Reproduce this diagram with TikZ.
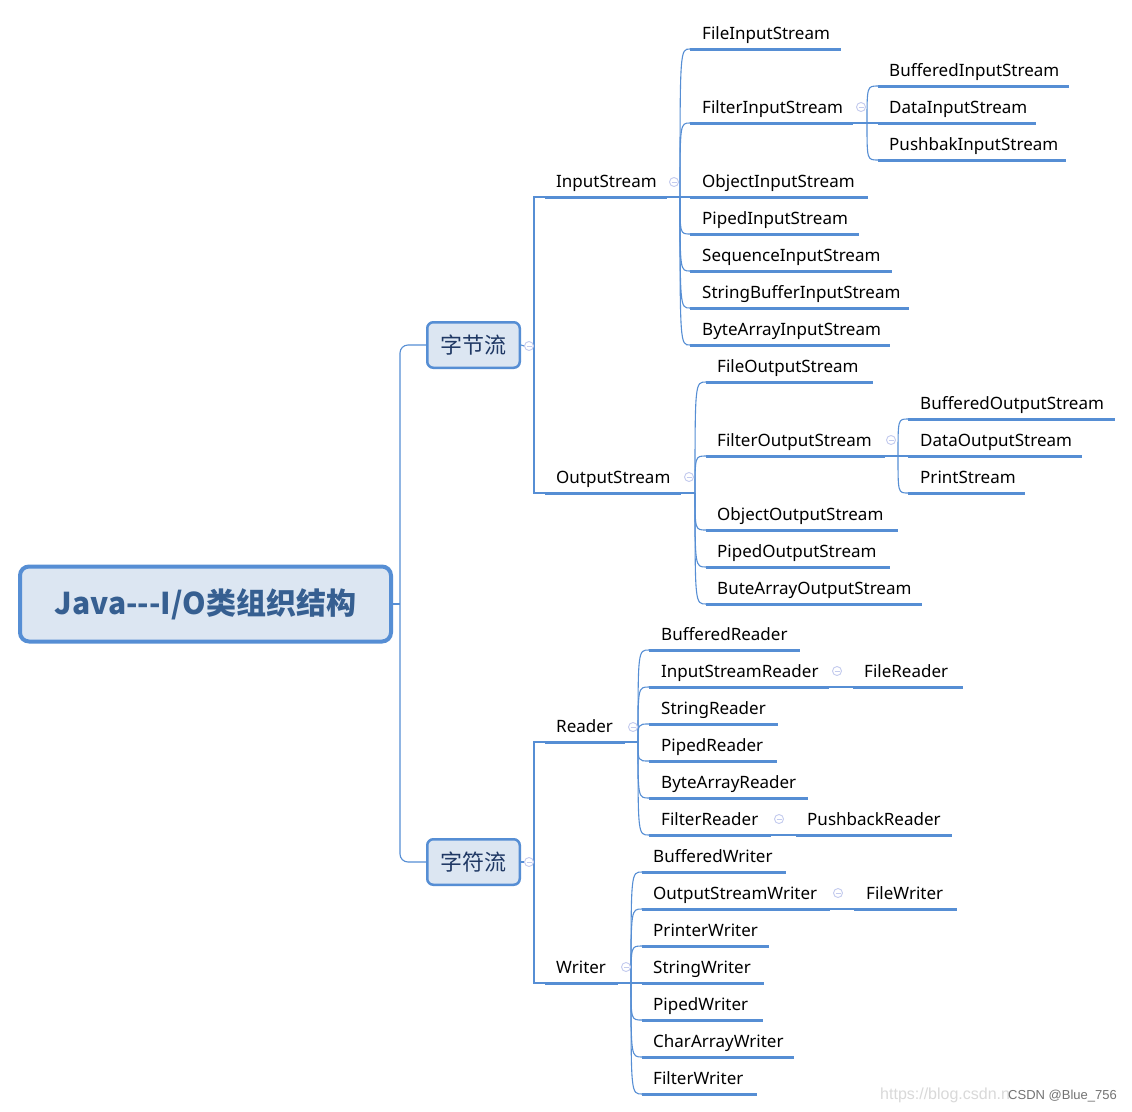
\documentclass[tikz,border=0pt]{standalone}
\usepackage{fontspec}
\setmainfont{Noto Sans}
\newfontfamily\cjk{Noto Sans CJK SC}
\newfontfamily\wmfont{Liberation Sans}
\definecolor{lineblue}{HTML}{568ED4}
\definecolor{boxfill}{HTML}{DCE6F2}
\definecolor{roottext}{HTML}{365F91}
\definecolor{lonetext}{HTML}{1F3864}
\definecolor{markc}{HTML}{C3CBEE}
\tikzset{
  uline/.style={draw=lineblue, line width=3pt},
  conn/.style={draw=lineblue, line width=1.1pt},
  lbl/.style={anchor=base west, inner sep=0pt, font=\fontsize{17}{20}\selectfont, text=black},
  rootbox/.style={draw=lineblue, fill=boxfill, line width=4pt, rounded corners=9pt,
    minimum width=371pt, minimum height=75pt, inner sep=0pt, text=roottext,
    font=\cjk\bfseries\fontsize{30}{33}\selectfont},
  lonebox/.style={draw=lineblue, fill=boxfill, line width=2.5pt, rounded corners=6pt,
    minimum width=92.5pt, minimum height=45.5pt, inner sep=0pt, text=lonetext,
    font=\cjk\fontsize{22}{26}\selectfont},
  collapse/.style={circle, draw=markc, fill=white, line width=0.9pt, minimum size=9pt, inner sep=0pt,
    path picture={\draw[draw=markc, line width=0.9pt]
      ([xshift=-2.5pt]path picture bounding box.center) -- ([xshift=2.5pt]path picture bounding box.center);}},
  wmtext/.style={anchor=base west, inner sep=0pt},
}
\newcommand\leaf[6]{%
  \coordinate (#1-s) at (#2,#4);
  \coordinate (#1-e) at (#3,#4);
  \draw[uline] (#1-s) -- (#1-e);
  \node[lbl] (#1) at (#5,#4-10) {#6};
}
\newcommand\branch[2]{\draw[conn] (#1) .. controls (#1 |- #2) and (#1 |- #2) .. (#2);}
\begin{document}
\begin{tikzpicture}[x=1pt,y=-1pt]
\fill[white] (0,0) rectangle (1132,1111);
\useasboundingbox (0,0) rectangle (1132,1111);

% root and level 1
\node[rootbox] (root) at (205.5,604) {Java-\kern0pt-\kern0pt-I/O类组织结构};
\node[lonebox] (b1) at (473.5,345) {字节流};
\node[lonebox] (b2) at (473.5,862) {字符流};
\coordinate (tr) at (400,604);
\draw[conn] (root.east) -- (tr);
\draw[conn, rounded corners=8pt] (b1.west) -| (tr) |- (b2.west);

% InputStream
\leaf{is}{545}{667}{197}{556}{InputStream}
\leaf{fis}{690}{841}{49}{702}{FileInputStream}
\leaf{flis}{690}{853}{123}{702}{FilterInputStream}
\leaf{bis}{878}{1069}{86}{889}{BufferedInputStream}
\leaf{dis}{878}{1036}{123}{889}{DataInputStream}
\leaf{pbis}{878}{1066}{160}{889}{PushbakInputStream}
\leaf{ois}{690}{868}{197}{702}{ObjectInputStream}
\leaf{pis}{690}{859}{234}{702}{PipedInputStream}
\leaf{sis}{690}{892}{271}{702}{SequenceInputStream}
\leaf{sbis}{690}{909}{308}{702}{StringBufferInputStream}
\leaf{bais}{690}{890}{345}{702}{ByteArrayInputStream}

% OutputStream
\leaf{os}{545}{681}{493}{556}{OutputStream}
\leaf{fos}{706}{873}{382}{717}{FileOutputStream}
\leaf{flos}{706}{885}{456}{717}{FilterOutputStream}
\leaf{bos}{908}{1115}{419}{920}{BufferedOutputStream}
\leaf{dos}{908}{1082}{456}{920}{DataOutputStream}
\leaf{ps}{908}{1025}{493}{920}{PrintStream}
\leaf{oos}{706}{898}{530}{717}{ObjectOutputStream}
\leaf{pos}{706}{890}{567}{717}{PipedOutputStream}
\leaf{baos}{706}{922}{604}{717}{ButeArrayOutputStream}

% Reader
\leaf{rd}{545}{625}{742}{556}{Reader}
\leaf{br}{649}{800}{650}{661}{BufferedReader}
\leaf{isr}{649}{829}{687}{661}{InputStreamReader}
\leaf{fr}{853}{963}{687}{864}{FileReader}
\leaf{sr}{649}{778}{724}{661}{StringReader}
\leaf{pr}{649}{777}{761}{661}{PipedReader}
\leaf{bar}{649}{808}{798}{661}{ByteArrayReader}
\leaf{flr}{649}{771}{835}{661}{FilterReader}
\leaf{pbr}{796}{952}{835}{807}{PushbackReader}

% Writer
\leaf{wr}{545}{618}{983}{556}{Writer}
\leaf{bw}{642}{786}{872}{653}{BufferedWriter}
\leaf{osw}{642}{830}{909}{653}{OutputStreamWriter}
\leaf{fw}{854}{957}{909}{866}{FileWriter}
\leaf{ptw}{642}{769}{946}{653}{PrinterWriter}
\leaf{sw}{642}{764}{983}{653}{StringWriter}
\leaf{pw}{642}{763}{1020}{653}{PipedWriter}
\leaf{caw}{642}{794}{1057}{653}{CharArrayWriter}
\leaf{flw}{642}{757}{1094}{653}{FilterWriter}

% level-1 connectors
\coordinate (v1) at (534,346);
\coordinate (v2) at (534,862);
\draw[conn] (is-s) -| (v1) |- (os-s);
\draw[conn] (rd-s) -| (v2) |- (wr-s);

% junctions
\coordinate (in-j) at (680,197);
\coordinate (out-j) at (695,493);
\coordinate (rd-j) at (638,742);
\coordinate (wr-j) at (631,983);
\coordinate (fin-j) at (867,123);
\coordinate (fout-j) at (898,456);
\draw[conn] (is-e) -- (in-j);
\draw[conn] (os-e) -- (out-j);
\draw[conn] (rd-e) -- (rd-j);
\draw[conn] (wr-e) -- (wr-j);
\draw[conn] (flis-e) -- (fin-j);
\draw[conn] (flos-e) -- (fout-j);
\foreach \c in {fis,flis,ois,pis,sis,sbis,bais} {\branch{in-j}{\c-s}}
\foreach \c in {bis,dis,pbis} {\branch{fin-j}{\c-s}}
\foreach \c in {fos,flos,oos,pos,baos} {\branch{out-j}{\c-s}}
\foreach \c in {bos,dos,ps} {\branch{fout-j}{\c-s}}
\foreach \c in {br,isr,sr,pr,bar,flr} {\branch{rd-j}{\c-s}}
\foreach \c in {bw,osw,ptw,sw,pw,caw,flw} {\branch{wr-j}{\c-s}}
\draw[conn] (isr-e) -- (fr-s);
\draw[conn] (flr-e) -- (pbr-s);
\draw[conn] (osw-e) -- (fw-s);

% collapse markers
\node[collapse] (m-b1) at (529,346) {};
\node[collapse] (m-b2) at (529,862) {};
\draw[conn] (b1.east) -- (m-b1.west);
\draw[conn] (b2.east) -- (m-b2.west);
\node[collapse] (m-is) at (674,182) {};
\node[collapse] (m-flis) at (861,107) {};
\node[collapse] (m-os) at (689,477) {};
\node[collapse] (m-flos) at (891,440) {};
\node[collapse] (m-rd) at (633,727) {};
\node[collapse] (m-isr) at (837,671) {};
\node[collapse] (m-flr) at (779,819) {};
\node[collapse] (m-wr) at (626,967) {};
\node[collapse] (m-osw) at (838,893) {};

% watermark
\node[wmtext, text=black!15, font=\wmfont\fontsize{16}{18}\selectfont] (url) at (880,1099) {https://blog.csdn.n};
\node[wmtext, text=black!55, font=\wmfont\fontsize{13}{15}\selectfont] (csdn) at (1008,1099) {CSDN @Blue\_756};
\end{tikzpicture}
\end{document}
